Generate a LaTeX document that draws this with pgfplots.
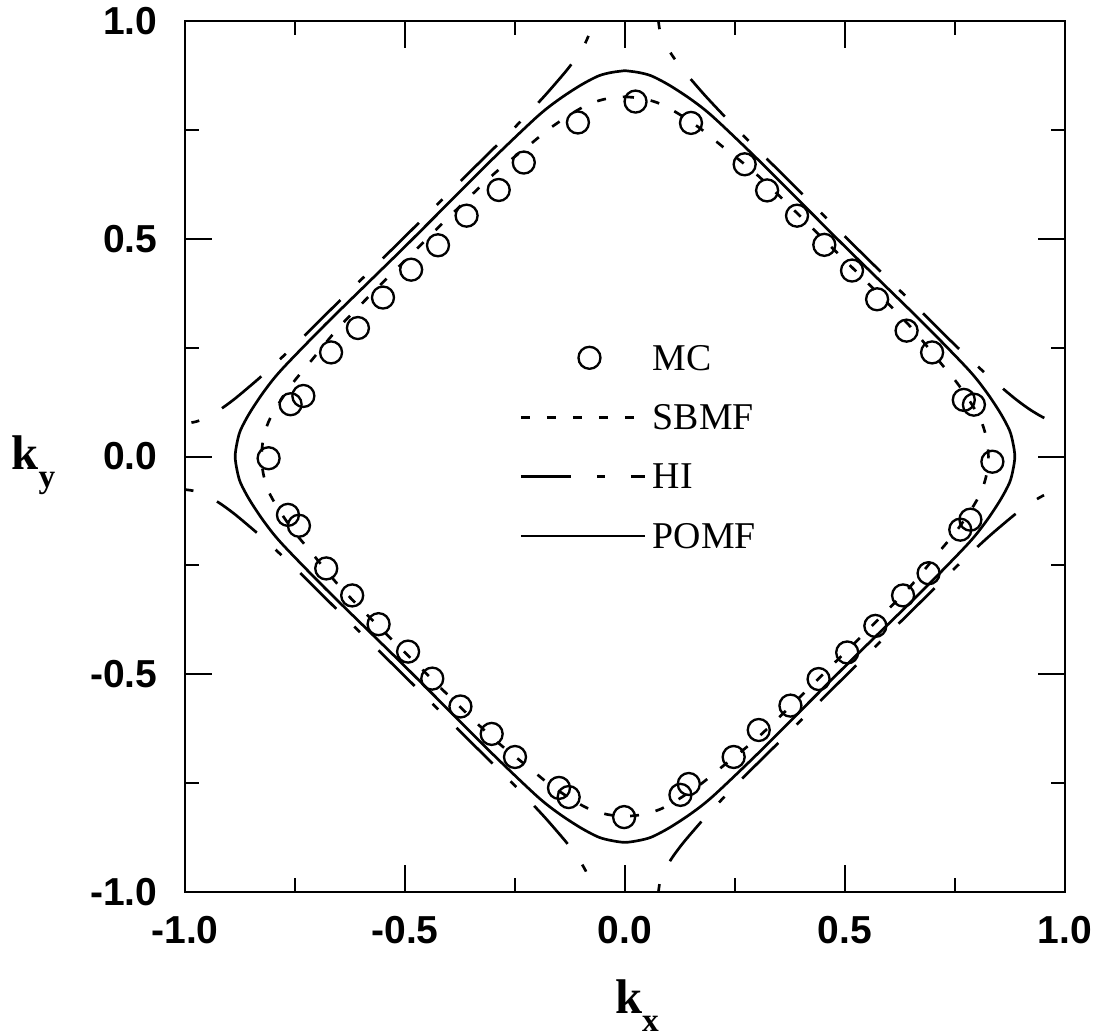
\documentclass[border=0pt]{standalone}
\usepackage{fontspec}
\usepackage{pgfplots}
\pgfplotsset{compat=1.18}
\setmainfont{Liberation Serif}
\newfontfamily\ticksf{Liberation Sans}

\begin{document}
\begin{tikzpicture}
\useasboundingbox (-55.5pt,-43.2pt) rectangle (276.9pt,267.6pt);
\begin{axis}[
  at={(0pt,0pt)}, anchor=south west,
  width=264pt, height=261.3pt, scale only axis,
  xmin=-1, xmax=1, ymin=-1, ymax=1,
  axis line style={line width=0.6pt},
  xtick={-1,-0.5,0,0.5,1}, ytick={-1,-0.5,0,0.5,1},
  xticklabels={-1.0,-0.5,0.0,0.5,1.0}, yticklabels={-1.0,-0.5,0.0,0.5,1.0},
  minor xtick={-0.75,-0.25,0.25,0.75}, minor ytick={-0.75,-0.25,0.25,0.75},
  tick align=inside, tick pos=both,
  major tick length=8pt, minor tick length=4.2pt,
  tick style={black, line width=0.6pt},
  tick label style={font=\ticksf\bfseries\fontsize{11.7}{13}\selectfont, inner sep=0pt},
  xticklabel style={yshift=-7.2pt},
  yticklabel style={xshift=-8.1pt},
  every axis x label/.style={at={(rel axis cs:0.5,0)}, anchor=base, xshift=3.6pt, yshift=-36.6pt},
  every axis y label/.style={at={(rel axis cs:0,0.5)}, anchor=base, xshift=-45.5pt, yshift=-4pt},
  xlabel={\fontsize{14.6}{16}\selectfont\bfseries k\raisebox{-5.4pt}{\fontsize{10}{11}\selectfont\bfseries x}},
  ylabel={\fontsize{14.6}{16}\selectfont\bfseries k\raisebox{-5.4pt}{\fontsize{10}{11}\selectfont\bfseries y}},
  legend cell align=left,
  legend image code/.code={\draw[#1, dash phase=0pt] (0pt,0pt) -- (37.2pt,0pt);},
  legend style={at={(axis cs:-0.2398,0.2707)}, anchor=north west, draw=none, fill=none,
    inner sep=0pt, outer sep=0pt, row sep=6.32pt,
    font=\fontsize{11.35}{13}\selectfont, nodes={inner sep=2pt, text depth=0pt}},
  hi/.style={line width=0.8pt, dash pattern=on 15.2pt off 7.6pt on 2.4pt off 7.8pt, smooth},
]
% MC
\addplot[only marks, mark=o, mark size=3.3pt, mark options={line width=0.7pt},
  legend image code/.code={\path (0pt,0pt) (37.2pt,0pt); \draw[##1] plot coordinates {(20.6pt,0pt)};}]
  coordinates {
  (0.024,0.815) (-0.107,0.767) (-0.230,0.675) (-0.287,0.612) (-0.360,0.553)
  (-0.425,0.485) (-0.486,0.429) (-0.550,0.365) (-0.607,0.295) (-0.668,0.239)
  (-0.731,0.139) (-0.760,0.120) (-0.810,-0.004) (-0.766,-0.134) (-0.741,-0.159)
  (-0.679,-0.257) (-0.620,-0.319) (-0.560,-0.385) (-0.493,-0.448) (-0.438,-0.510)
  (-0.374,-0.574) (-0.303,-0.637) (-0.250,-0.690) (-0.150,-0.761) (-0.128,-0.782)
  (-0.002,-0.828) (0.126,-0.777) (0.145,-0.752) (0.247,-0.690) (0.304,-0.628)
  (0.376,-0.572) (0.440,-0.511) (0.505,-0.450) (0.569,-0.389) (0.632,-0.319)
  (0.690,-0.268) (0.762,-0.168) (0.785,-0.145) (0.835,-0.012) (0.770,0.130)
  (0.793,0.119) (0.698,0.239) (0.640,0.289) (0.573,0.361) (0.516,0.427)
  (0.453,0.486) (0.391,0.553) (0.323,0.611) (0.272,0.671) (0.150,0.766)
  };
\addlegendentry{MC}
% SBMF
\addplot[line width=0.8pt, dash pattern=on 2.7pt off 5.1pt, smooth]
  coordinates {
  (0.000,0.826) (0.040,0.822) (0.080,0.810) (0.120,0.788) (0.170,0.754) (0.220,0.713)
  (0.300,0.647) (0.400,0.550) (0.475,0.475) (0.550,0.400) (0.647,0.300) (0.713,0.220)
  (0.754,0.170) (0.788,0.120) (0.810,0.080) (0.822,0.040) (0.826,0.000)
  (0.822,-0.040) (0.810,-0.080) (0.788,-0.120) (0.754,-0.170) (0.713,-0.220) (0.647,-0.300)
  (0.550,-0.400) (0.475,-0.475) (0.400,-0.550) (0.300,-0.647) (0.220,-0.713) (0.170,-0.754)
  (0.120,-0.788) (0.080,-0.810) (0.040,-0.822) (0.000,-0.826)
  (-0.040,-0.822) (-0.080,-0.810) (-0.120,-0.788) (-0.170,-0.754) (-0.220,-0.713)
  (-0.300,-0.647) (-0.400,-0.550) (-0.475,-0.475) (-0.550,-0.400) (-0.647,-0.300)
  (-0.713,-0.220) (-0.754,-0.170) (-0.788,-0.120) (-0.810,-0.080) (-0.822,-0.040) (-0.826,0.000)
  (-0.822,0.040) (-0.810,0.080) (-0.788,0.120) (-0.754,0.170) (-0.713,0.220) (-0.647,0.300)
  (-0.550,0.400) (-0.475,0.475) (-0.400,0.550) (-0.300,0.647) (-0.220,0.713) (-0.170,0.754)
  (-0.120,0.788) (-0.080,0.810) (-0.040,0.822) (0.000,0.826)
  };
\addlegendentry{SBMF}
% HI (four arcs)
\addplot[hi, dash phase=23.9pt]
  coordinates {
  (1.020,0.075) (1.000,0.076) (0.975,0.080) (0.950,0.090) (0.920,0.108) (0.890,0.130)
  (0.860,0.155) (0.820,0.190) (0.750,0.256) (0.650,0.356) (0.500,0.505) (0.356,0.650)
  (0.256,0.750) (0.190,0.820) (0.155,0.860) (0.130,0.890) (0.108,0.920) (0.090,0.950)
  (0.080,0.975) (0.076,1.000) (0.075,1.020)
  };
\addlegendentry{HI}
\addplot[hi, dash phase=18.2pt, forget plot]
  coordinates {
  (-1.020,0.075) (-1.000,0.076) (-0.975,0.080) (-0.950,0.090) (-0.920,0.108) (-0.890,0.130)
  (-0.860,0.155) (-0.820,0.190) (-0.750,0.256) (-0.650,0.356) (-0.500,0.505) (-0.356,0.650)
  (-0.256,0.750) (-0.190,0.820) (-0.155,0.860) (-0.130,0.890) (-0.108,0.920) (-0.090,0.950)
  (-0.080,0.975) (-0.076,1.000) (-0.075,1.020)
  };
\addplot[hi, dash phase=20pt, forget plot]
  coordinates {
  (-1.020,-0.075) (-1.000,-0.076) (-0.975,-0.080) (-0.950,-0.090) (-0.920,-0.108) (-0.890,-0.130)
  (-0.860,-0.155) (-0.820,-0.190) (-0.750,-0.256) (-0.650,-0.356) (-0.500,-0.505) (-0.356,-0.650)
  (-0.256,-0.750) (-0.190,-0.820) (-0.155,-0.860) (-0.130,-0.890) (-0.108,-0.920) (-0.090,-0.950)
  (-0.080,-0.975) (-0.076,-1.000) (-0.075,-1.020)
  };
\addplot[hi, dash phase=13.6pt, forget plot]
  coordinates {
  (1.020,-0.075) (1.000,-0.076) (0.975,-0.080) (0.950,-0.090) (0.920,-0.108) (0.890,-0.130)
  (0.860,-0.155) (0.820,-0.190) (0.750,-0.256) (0.650,-0.356) (0.500,-0.505) (0.356,-0.650)
  (0.256,-0.750) (0.190,-0.820) (0.155,-0.860) (0.130,-0.890) (0.108,-0.920) (0.090,-0.950)
  (0.080,-0.975) (0.076,-1.000) (0.075,-1.020)
  };
% POMF
\addplot[line width=0.8pt, smooth]
  coordinates {
  (0.000,0.886) (0.030,0.882) (0.060,0.874) (0.100,0.853) (0.150,0.820) (0.200,0.780)
  (0.300,0.684) (0.400,0.583) (0.500,0.482) (0.583,0.400) (0.684,0.300) (0.780,0.200)
  (0.820,0.150) (0.853,0.100) (0.874,0.060) (0.882,0.030) (0.886,0.000)
  (0.882,-0.030) (0.874,-0.060) (0.853,-0.100) (0.820,-0.150) (0.780,-0.200) (0.684,-0.300)
  (0.583,-0.400) (0.500,-0.482) (0.400,-0.583) (0.300,-0.684) (0.200,-0.780) (0.150,-0.820)
  (0.100,-0.853) (0.060,-0.874) (0.030,-0.882) (0.000,-0.886)
  (-0.030,-0.882) (-0.060,-0.874) (-0.100,-0.853) (-0.150,-0.820) (-0.200,-0.780) (-0.300,-0.684)
  (-0.400,-0.583) (-0.500,-0.482) (-0.583,-0.400) (-0.684,-0.300) (-0.780,-0.200) (-0.820,-0.150)
  (-0.853,-0.100) (-0.874,-0.060) (-0.882,-0.030) (-0.886,0.000)
  (-0.882,0.030) (-0.874,0.060) (-0.853,0.100) (-0.820,0.150) (-0.780,0.200) (-0.684,0.300)
  (-0.583,0.400) (-0.500,0.482) (-0.400,0.583) (-0.300,0.684) (-0.200,0.780) (-0.150,0.820)
  (-0.100,0.853) (-0.060,0.874) (-0.030,0.882) (0.000,0.886)
  };
\addlegendentry{POMF}
\end{axis}
\end{tikzpicture}
\end{document}
